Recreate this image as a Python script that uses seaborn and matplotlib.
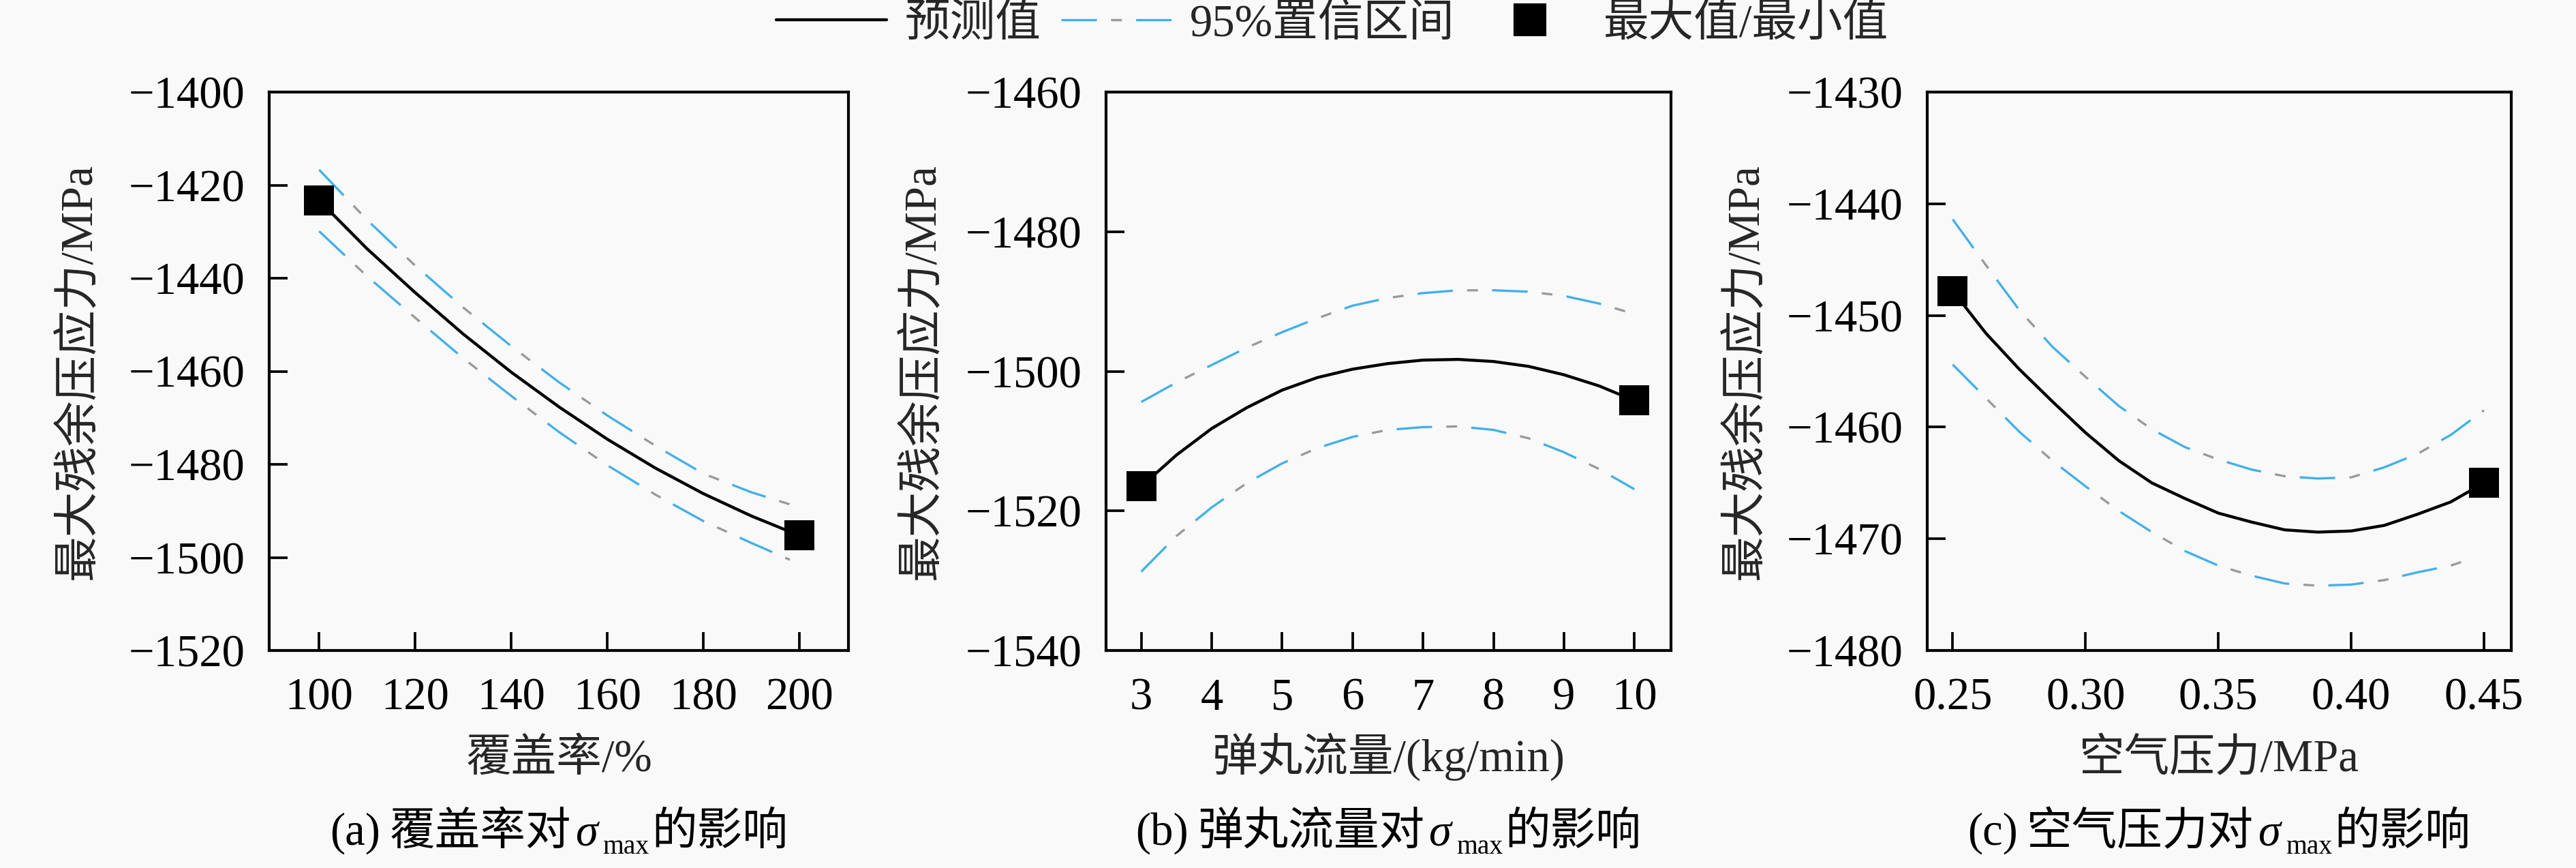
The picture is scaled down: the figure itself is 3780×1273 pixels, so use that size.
import numpy as np
import pandas as pd
import matplotlib
matplotlib.use("Agg")
import matplotlib.pyplot as plt
import seaborn as sns
from matplotlib import font_manager as fm
from matplotlib.lines import Line2D
from matplotlib.legend_handler import HandlerTuple
from matplotlib.ticker import FormatStrFormatter

# ---------------- data ----------------
# (a) coverage
cov_x = [100, 110, 120, 130, 140, 150, 160, 170, 180, 190, 200]
cov_pred = [-1423.3, -1433.7, -1443.1, -1452.0, -1460.2, -1467.7, -1474.6, -1480.8, -1486.3, -1491.1, -1495.3]
cov_ci_x = [100, 110, 120, 130, 140, 150, 160, 170, 180, 190, 198]
cov_upper = [-1416.7, -1427.5, -1437.3, -1446.3, -1454.6, -1462.4, -1469.5, -1476.0, -1482.0, -1486.0, -1488.6]
cov_lower = [-1429.9, -1439.6, -1448.5, -1457.2, -1465.3, -1473.1, -1480.2, -1486.5, -1492.2, -1496.9, -1500.5]
cov_ext_x = [100, 200]
cov_ext_y = [-1423.3, -1495.3]

# (b) shot flow
flow_x = [3, 3.5, 4, 4.5, 5, 5.5, 6, 6.5, 7, 7.5, 8, 8.5, 9, 9.5, 10]
flow_pred = [-1516.5, -1512.0, -1508.2, -1505.2, -1502.7, -1500.9, -1499.7, -1498.9, -1498.4, -1498.3,
             -1498.6, -1499.3, -1500.5, -1502.1, -1504.2]
flow_upper = [-1504.4, -1501.6, -1499.1, -1496.6, -1494.4, -1492.4, -1490.6, -1489.5, -1488.8, -1488.4,
              -1488.4, -1488.6, -1489.2, -1490.3, -1491.8]
flow_lower = [-1528.7, -1523.6, -1519.5, -1516.0, -1513.2, -1511.0, -1509.4, -1508.4, -1508.0, -1507.9,
              -1508.4, -1509.6, -1511.6, -1514.0, -1516.9]
flow_ext_x = [3, 10]
flow_ext_y = [-1516.5, -1504.2]

# (c) air pressure
air_x = [0.25, 0.2625, 0.275, 0.2875, 0.30, 0.3125, 0.325, 0.3375, 0.35, 0.3625, 0.375,
         0.3875, 0.40, 0.4125, 0.425, 0.4375, 0.45]
air_pred = [-1447.8, -1451.6, -1454.8, -1457.7, -1460.5, -1463.0, -1465.0, -1466.4, -1467.7, -1468.5, -1469.2,
            -1469.4, -1469.3, -1468.8, -1467.8, -1466.7, -1465.0]
air_upper = [-1441.4, -1445.5, -1449.5, -1452.8, -1455.5, -1458.1, -1460.2, -1461.8, -1462.9, -1463.8, -1464.4,
             -1464.6, -1464.5, -1463.6, -1462.4, -1460.7, -1458.5]
air_lower_x = [0.25, 0.2625, 0.275, 0.2875, 0.30, 0.3125, 0.325, 0.3375, 0.35, 0.3625, 0.375,
               0.3875, 0.40, 0.4125, 0.425, 0.4375, 0.445]
air_lower = [-1454.4, -1457.4, -1460.4, -1463.0, -1465.3, -1467.5, -1469.4, -1471.1, -1472.4, -1473.3, -1474.0,
             -1474.2, -1474.1, -1473.7, -1473.0, -1472.4, -1471.8]
air_ext_x = [0.25, 0.45]
air_ext_y = [-1447.8, -1465.0]

# axis texts
ylabel_txt = "最大残余压应力/MPa"
xlabels = ["覆盖率/%", "弹丸流量/(kg/min)", "空气压力/MPa"]
cap_letters = ["(a)", "(b)", "(c)"]
cap_names = ["覆盖率对", "弹丸流量对", "空气压力对"]
legend_labels = ["预测值", "95%置信区间", "最大值/最小值"]

# ---------------- style ----------------
sns.set_theme(style="ticks")
_names = {f.name for f in fm.fontManager.ttflist}
SERIF = next((n for n in ["Liberation Serif", "Times New Roman", "Nimbus Roman", "DejaVu Serif"] if n in _names),
             "DejaVu Serif")
CJK = "Noto Sans CJK SC"
plt.rcParams["font.family"] = [SERIF, CJK, "DejaVu Sans"]
plt.rcParams["axes.unicode_minus"] = True
plt.rcParams["lines.scale_dashes"] = False
BG = "#f9f9f9"
FS = 16

W, H = 3780, 1273
DPI = 300
fig = plt.figure(figsize=(W / DPI, H / DPI), dpi=DPI, facecolor=BG)

top_px, bot_px = 135, 954
panels_px = [(395, 1245), (1623, 2452), (2828, 3685)]
axes = []
for (l, r) in panels_px:
    ax = fig.add_axes([l / W, 1 - bot_px / H, (r - l) / W, (bot_px - top_px) / H])
    ax.set_facecolor(BG)
    axes.append(ax)

CI_BLUE = "#42b0e8"
CI_GRAY = "#9a9a9a"
ls_blue = (0, (12.5, 13.8))
ls_gray = (8.8, (3.8, 22.5))
LW_PRED = 1.05
LW_CI = 0.8


def draw_panel(ax, x, pred, cxu, up, cxl, lo, ex, ey):
    for cx, cy in ((cxu, up), (cxl, lo)):
        sns.lineplot(x=cx, y=cy, ax=ax, color=CI_BLUE, linewidth=LW_CI, linestyle=ls_blue,
                     estimator=None, legend=False)
        sns.lineplot(x=cx, y=cy, ax=ax, color=CI_GRAY, linewidth=LW_CI, linestyle=ls_gray,
                     estimator=None, legend=False)
    sns.lineplot(x=x, y=pred, ax=ax, color="black", linewidth=LW_PRED, estimator=None, legend=False)
    sns.scatterplot(x=ex, y=ey, ax=ax, marker="s", s=112, color="black", edgecolor="black",
                    linewidth=0, zorder=5, legend=False)


draw_panel(axes[0], cov_x, cov_pred, cov_ci_x, cov_upper, cov_ci_x, cov_lower, cov_ext_x, cov_ext_y)
draw_panel(axes[1], flow_x, flow_pred, flow_x, flow_upper, flow_x, flow_lower, flow_ext_x, flow_ext_y)
draw_panel(axes[2], air_x, air_pred, air_x, air_upper, air_lower_x, air_lower, air_ext_x, air_ext_y)

# limits & ticks
axes[0].set_xlim(89.6, 210.2)
axes[0].set_ylim(-1520, -1400)
axes[0].set_xticks(np.arange(100, 201, 20))
axes[0].set_yticks(np.arange(-1520, -1399, 20))

axes[1].set_xlim(2.5, 10.52)
axes[1].set_ylim(-1540, -1460)
axes[1].set_xticks(np.arange(3, 11, 1))
axes[1].set_yticks(np.arange(-1540, -1459, 20))

axes[2].set_xlim(0.2404, 0.4603)
axes[2].set_ylim(-1480, -1430)
axes[2].set_xticks([0.25, 0.30, 0.35, 0.40, 0.45])
axes[2].set_yticks(np.arange(-1480, -1429, 10))
axes[2].xaxis.set_major_formatter(FormatStrFormatter("%.2f"))

ylabel_x = [-0.329, -0.3245, -0.3105]
for i, ax in enumerate(axes):
    for s in ax.spines.values():
        s.set_linewidth(1.0)
        s.set_color("black")
    ax.tick_params(axis="both", which="both", direction="in", length=6.5, width=0.9,
                   labelsize=FS, colors="black", top=False, right=False)
    ax.tick_params(axis="x", pad=9.5)
    ax.tick_params(axis="y", pad=8.5)
    for lab in ax.get_xticklabels() + ax.get_yticklabels():
        lab.set_family([SERIF, "DejaVu Sans"])
    ax.set_xlabel(xlabels[i], fontsize=FS)
    ax.set_ylabel(ylabel_txt, fontsize=FS)
    ax.xaxis.label.set_va("baseline")
    ax.xaxis.set_label_coords(0.5, -(1131 - bot_px) / (bot_px - top_px))
    ax.yaxis.label.set_va("center")
    ax.yaxis.set_label_coords(ylabel_x[i], 0.5)
    ax.grid(False)

# legend
h_pred = Line2D([], [], color="black", linewidth=LW_PRED)
h_ci1 = Line2D([], [], color=CI_BLUE, linewidth=LW_CI, linestyle=ls_blue)
h_ci2 = Line2D([], [], color=CI_GRAY, linewidth=LW_CI, linestyle=ls_gray)
h_ext = Line2D([], [], color="black", marker="s", markersize=10.5, linestyle="none")
fig.legend([h_pred, (h_ci1, h_ci2), h_ext], legend_labels,
           handler_map={tuple: HandlerTuple(ndivide=1)},
           loc="center", bbox_to_anchor=(1955 / W, 1 - 36 / H), ncol=3, frameon=False,
           fontsize=FS, handlelength=2.43, handletextpad=0.4, columnspacing=0.45,
           borderpad=0, borderaxespad=0)

# captions built from pieces
fig.canvas.draw()
renderer = fig.canvas.get_renderer()
CAP_BASE = 1239
for i, ax in enumerate(axes):
    pieces = [
        (cap_letters[i], dict(fontsize=FS, family=[SERIF]), 0, 0),
        (cap_names[i], dict(fontsize=FS, family=[CJK]), 0, 13),
        ("σ", dict(fontsize=FS, fontstyle="italic", family=[SERIF]), 0, 6),
        ("max", dict(fontsize=9.5, family=[SERIF]), -13, 8),
        ("的影响", dict(fontsize=FS, family=[CJK]), 0, 3),
    ]
    objs = []
    for s, kw, dy, gap in pieces:
        t = fig.text(0, 0, s, ha="left", va="baseline", color="black", **kw)
        objs.append((t, dy, gap))
    widths = [t.get_window_extent(renderer).width for t, _, _ in objs]
    total = sum(widths) + sum(g for _, _, g in objs)
    bb = ax.get_position()
    cx = (bb.x0 + bb.x1) / 2 * W
    xpos = cx - total / 2
    for (t, dy, gap), w in zip(objs, widths):
        xpos += gap
        t.set_position((xpos / W, (H - CAP_BASE + dy) / H))
        xpos += w

fig.savefig("out.png", dpi=DPI, facecolor=BG)
